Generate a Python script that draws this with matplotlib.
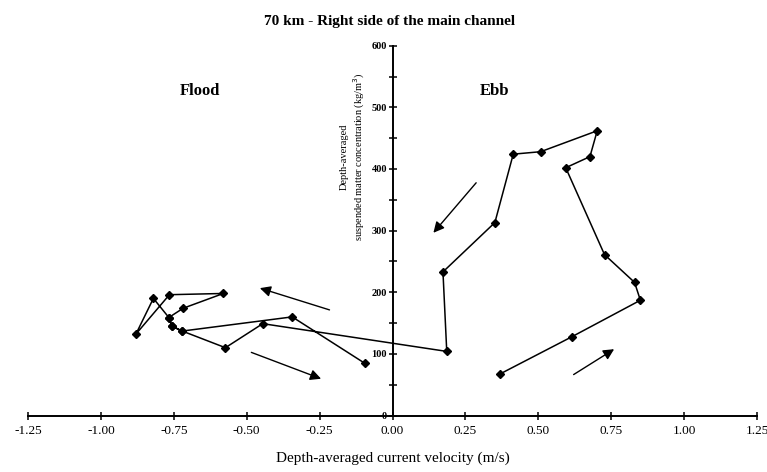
import numpy as np
import matplotlib.pyplot as plt
from matplotlib.ticker import MultipleLocator, FormatStrFormatter

# tidal loop, ebb part first then flood part (velocity m/s, concentration kg/m3)
ebb_vel = [0.367, 0.616, 0.850, 0.830, 0.727, 0.594, 0.677, 0.702, 0.508, 0.414, 0.351, 0.173, 0.186]
ebb_conc = [67, 128, 187, 216, 261, 402, 420, 462, 428, 424, 313, 233, 104]
flood_vel = [-0.445, -0.573, -0.721, -0.757, -0.767, -0.820, -0.880, -0.765, -0.580, -0.718,
             -0.767, -0.757, -0.721, -0.344, -0.096]
flood_conc = [149, 110, 137, 145, 159, 190, 132, 196, 198, 174, 159, 145, 137, 160, 85]

# direction arrows (tail -> head)
arrows = [((-0.207, 170), (-0.464, 208)),
          ((-0.493, 104), (-0.236, 58)),
          ((0.293, 381), (0.134, 293)),
          ((0.613, 64), (0.768, 110))]

plt.rcParams['font.family'] = ['Liberation Serif', 'DejaVu Serif']

fig = plt.figure(figsize=(7.67, 4.72), dpi=100)
ax = fig.add_axes([0.0365, 0.1197, 0.9505, 0.7835])

vel = ebb_vel + flood_vel
conc = ebb_conc + flood_conc
ax.plot(vel, conc, color='black', lw=1.1, marker='D', ms=4, mfc='black', mec='black')

for (x0, y0), (x1, y1) in arrows:
    ax.annotate('', xy=(x1, y1), xytext=(x0, y0),
                arrowprops=dict(arrowstyle='-|>', color='black', lw=1.0, mutation_scale=16))

ax.set_xlim(-1.25, 1.25)
ax.set_ylim(0, 600)
ax.spines['left'].set_position(('data', 0))
ax.spines['right'].set_visible(False)
ax.spines['top'].set_visible(False)
ax.spines['left'].set_linewidth(1.4)
ax.spines['bottom'].set_linewidth(1.4)

ax.xaxis.set_major_locator(MultipleLocator(0.25))
ax.xaxis.set_major_formatter(FormatStrFormatter('%.2f'))
ax.yaxis.set_major_locator(MultipleLocator(100))
ax.yaxis.set_minor_locator(MultipleLocator(50))
ax.tick_params(axis='x', direction='inout', length=6, width=1.1, labelsize=9.5, pad=4)
ax.tick_params(axis='y', which='both', direction='inout', length=6, width=1.1, labelsize=7.5, pad=1)
for lab in ax.get_yticklabels():
    lab.set_fontweight('bold')

ax.set_xlabel('Depth-averaged current velocity (m/s)', fontsize=11, labelpad=10)
ax.text(-0.135, 0.7, 'Depth-averaged\nsuspended matter concentration (kg/m$^3$)',
        transform=ax.get_xaxis_transform(), rotation=90, ha='center', va='center',
        fontsize=7.5, linespacing=1.3)

fig.text(0.508, 0.955, '70 km - Right side of the main channel', ha='center', va='center',
         fontsize=11, fontweight='bold')
ax.text(-0.66, 527, 'Flood', ha='center', va='center', fontsize=12, fontweight='bold')
ax.text(0.35, 527, 'Ebb', ha='center', va='center', fontsize=12, fontweight='bold')

fig.savefig('out.png', dpi=100)
